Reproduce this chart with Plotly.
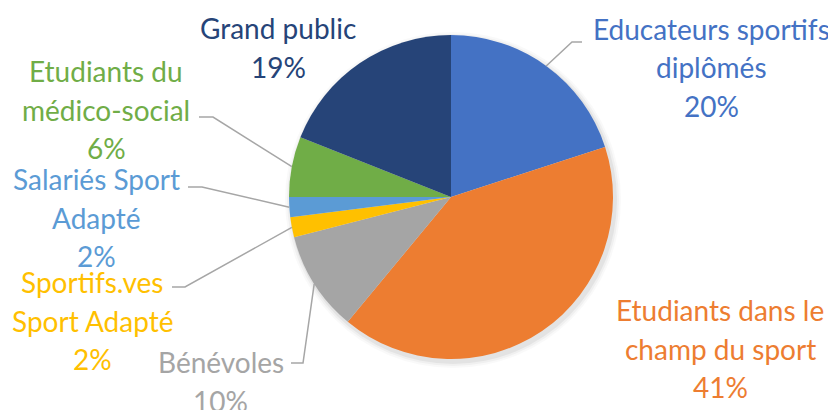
import math
import plotly.graph_objects as go

# ---- data ----
categories = ["Educateurs sportifs diplômés", "Etudiants dans le champ du sport", "Bénévoles",
              "Sportifs.ves Sport Adapté", "Salariés Sport Adapté", "Etudiants du médico-social",
              "Grand public"]
values = [20, 41, 10, 2, 2, 6, 19]
label_lines = [["Educateurs sportifs", "diplômés"], ["Etudiants dans le", "champ du sport"], ["Bénévoles"],
               ["Sportifs.ves", "Sport Adapté"], ["Salariés Sport", "Adapté"], ["Etudiants du", "médico-social"],
               ["Grand public"]]
colors = ["#4472C4", "#ED7D31", "#A5A5A5", "#FFC000", "#5B9BD5", "#70AD47", "#264478"]

# ---- layout constants (page pixels) ----
PAGE_W, PAGE_H = 836, 410
OFF = 8                      # body margin of the page
W, H = PAGE_W - OFF, PAGE_H - OFF
CX, CY, R = 451, 197, 162
FONT = "Lato"
FS = 28
LINE_GAP = 38.5
# label first-line centre (x, y) and leader elbow/end (None = no leader)
label_pos = [(711, 29), (720, 310), (221, 362), (92, 282), (96, 179), (106, 71), (278, 28)]
leaders = [((572, 42), (582, 42)), None, ((303, 363), (291, 363)), ((185, 287), (172, 287)),
           ((202, 187), (188, 187)), ((213, 117), (199, 117)), None]


def px(x):
    return (x - OFF) / W


def py(y):
    return 1 - (y - OFF) / H


fig = go.Figure()

# soft shadow
for d, a in [(6, 0.025), (4, 0.035), (2, 0.05)]:
    fig.add_shape(type="circle", xref="paper", yref="paper", layer="below",
                  x0=px(CX - R - d + 2), x1=px(CX + R + d + 2),
                  y0=py(CY + R + d + 3), y1=py(CY - R - d + 3),
                  fillcolor=f"rgba(0,0,0,{a})", line=dict(width=0))

fig.add_trace(go.Pie(
    labels=categories, values=values, sort=False, direction="clockwise", rotation=0,
    marker=dict(colors=colors, line=dict(width=0)), textinfo="none", hoverinfo="label+percent",
    domain=dict(x=[px(CX - R), px(CX + R)], y=[py(CY + R), py(CY - R)]),
    showlegend=False,
))

total = sum(values)
cum = 0
for i, v in enumerate(values):
    mid = (cum + v / 2) / total * 2 * math.pi
    cum += v
    ex, ey = CX + R * math.sin(mid), CY - R * math.cos(mid)
    lines = label_lines[i] + [f"{round(v / total * 100)}%"]
    lx, ly = label_pos[i]
    for k, t in enumerate(lines):
        fig.add_annotation(x=px(lx), y=py(ly + k * LINE_GAP), xref="paper", yref="paper",
                           text=t, showarrow=False, xanchor="center", yanchor="middle",
                           font=dict(family=FONT, size=FS, color=colors[i]))
    if leaders[i] is not None:
        (bx, by), (fx, fy) = leaders[i]
        fig.add_shape(type="path", xref="paper", yref="paper",
                      path=f"M {px(ex)} {py(ey)} L {px(bx)} {py(by)} L {px(fx)} {py(fy)}",
                      line=dict(color="#A6A6A6", width=1.5))

fig.update_layout(width=W, height=H, margin=dict(l=0, r=0, t=0, b=0),
                  paper_bgcolor="white", plot_bgcolor="white")
fig.write_html("out.html")
